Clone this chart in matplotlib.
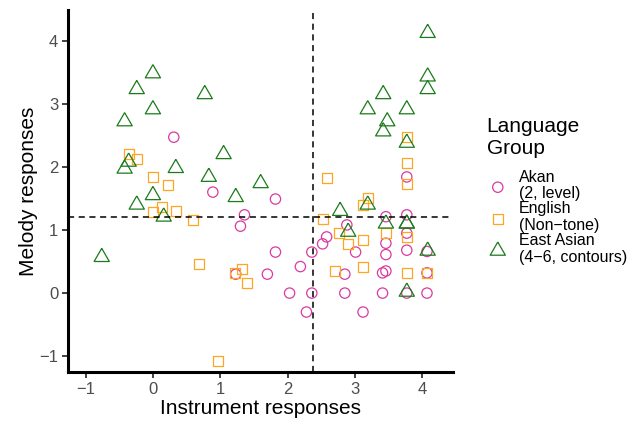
import matplotlib
matplotlib.use("Agg")
import matplotlib.pyplot as plt
import numpy as np

plt.rcParams['font.family'] = ['Liberation Sans', 'DejaVu Sans']

# Akan (2, level) - circles
akan_x = [0.31, 0.89, 1.36, 1.30, 1.82, 1.23, 1.70, 1.82, 2.03, 2.19, 2.28, 2.36,
          2.36, 2.52, 2.58, 2.88, 3.01, 2.85, 2.85, 3.12, 3.46, 3.46, 3.46, 3.41,
          3.46, 3.41, 3.77, 3.77, 3.77, 3.77, 4.07, 4.07, 4.07, 3.77]
akan_y = [2.47, 1.60, 1.24, 1.06, 1.49, 0.30, 0.30, 0.65, 0.00, 0.42, -0.30, 0.65,
          0.00, 0.78, 0.89, 1.08, 0.65, 0.30, 0.00, -0.30, 1.21, 0.79, 0.61, 0.32,
          0.35, 0.00, 1.24, 0.95, 0.68, 0.00, 0.32, 0.00, 0.66, 1.84]

# English (Non-tone) - squares
eng_x = [-0.36, -0.24, 0.00, 0.22, 0.00, 0.13, 0.34, 0.59, 0.68, 1.33, 1.22, 1.39,
         0.96, 2.58, 3.19, 3.12, 2.52, 2.76, 2.89, 3.12, 2.70, 3.12, 3.46, 3.77,
         3.77, 4.07, 3.77, 3.77, 3.77]
eng_y = [2.20, 2.12, 1.84, 1.71, 1.29, 1.36, 1.30, 1.16, 0.46, 0.38, 0.32, 0.16,
         -1.07, 1.82, 1.51, 1.40, 1.17, 0.95, 0.78, 0.84, 0.35, 0.42, 0.95, 0.89,
         0.32, 0.32, 2.47, 2.06, 1.73]

# East Asian (4-6, contours) - triangles
ea_x = [-0.76, -0.42, -0.24, 0.00, 0.00, 0.34, 0.77, 1.05, 0.83, -0.42, -0.36,
        -0.24, 0.00, 0.16, 1.23, 1.60, 2.78, 2.90, 3.19, 3.42, 3.48, 3.42, 3.77,
        3.77, 4.08, 4.08, 4.08, 3.19, 3.46, 3.77, 3.77, 4.08, 3.77]
ea_y = [0.57, 2.72, 3.23, 3.48, 2.91, 1.98, 3.15, 2.20, 1.84, 1.97, 2.08,
        1.40, 1.55, 1.21, 1.52, 1.74, 1.30, 0.97, 2.91, 3.15, 2.72, 2.56, 2.91,
        2.38, 4.12, 3.43, 3.23, 1.40, 1.10, 1.10, 1.10, 0.67, 0.02]

x_cut = 2.38
y_cut = 1.20

groups = ["Akan\n(2, level)", "English\n(Non\u2212tone)", "East Asian\n(4\u22126, contours)"]

tri = [(0, 1), (-0.866, -0.5), (0.866, -0.5), (0, 1)]

fig = plt.figure(figsize=(6.42, 4.23), dpi=100)
ax = fig.add_axes([0.106, 0.1206, 0.60, 0.855])

ax.scatter(akan_x, akan_y, s=55, marker='o', facecolors='none',
           edgecolors='#DA3AA0', linewidths=0.9, label=groups[0])
ax.scatter(eng_x, eng_y, s=52, marker='s', facecolors='none',
           edgecolors='#FFA620', linewidths=0.9, label=groups[1])
ax.scatter(ea_x, ea_y, s=160, marker=tri, facecolors='none',
           edgecolors='#1B7A1B', linewidths=0.9, label=groups[2])

ax.axvline(x_cut, color='black', linestyle=(0, (4, 3)), linewidth=1.1)
ax.axhline(y_cut, color='black', linestyle=(0, (4, 3)), linewidth=1.1)

ax.set_xlim(-1.26, 4.46)
ax.set_ylim(-1.25, 4.48)
ax.set_xticks([-1, 0, 1, 2, 3, 4])
ax.set_yticks([-1, 0, 1, 2, 3, 4])

for side in ['top', 'right']:
    ax.spines[side].set_visible(False)
for side in ['left', 'bottom']:
    ax.spines[side].set_linewidth(2.2)
    ax.spines[side].set_color('black')
ax.tick_params(length=4, width=1.3, color='#333333', labelcolor='#4D4D4D',
               labelsize=12, pad=3)

ax.set_xlabel("Instrument responses", fontsize=15, labelpad=2)
ax.set_ylabel("Melody responses", fontsize=15, labelpad=1)

leg = ax.legend(title="Language\nGroup", loc='center left',
                bbox_to_anchor=(1.07, 0.5), frameon=False, fontsize=11.5,
                title_fontsize=15, labelspacing=0.0, handlelength=1.4,
                handletextpad=0.6, borderaxespad=0, markerscale=1.0)
leg._legend_box.align = "left"
leg._legend_box.sep = 8
for t in leg.get_texts():
    t.set_linespacing(1.15)
leg.get_title().set_linespacing(1.2)

fig.savefig("out.png", dpi=100)
